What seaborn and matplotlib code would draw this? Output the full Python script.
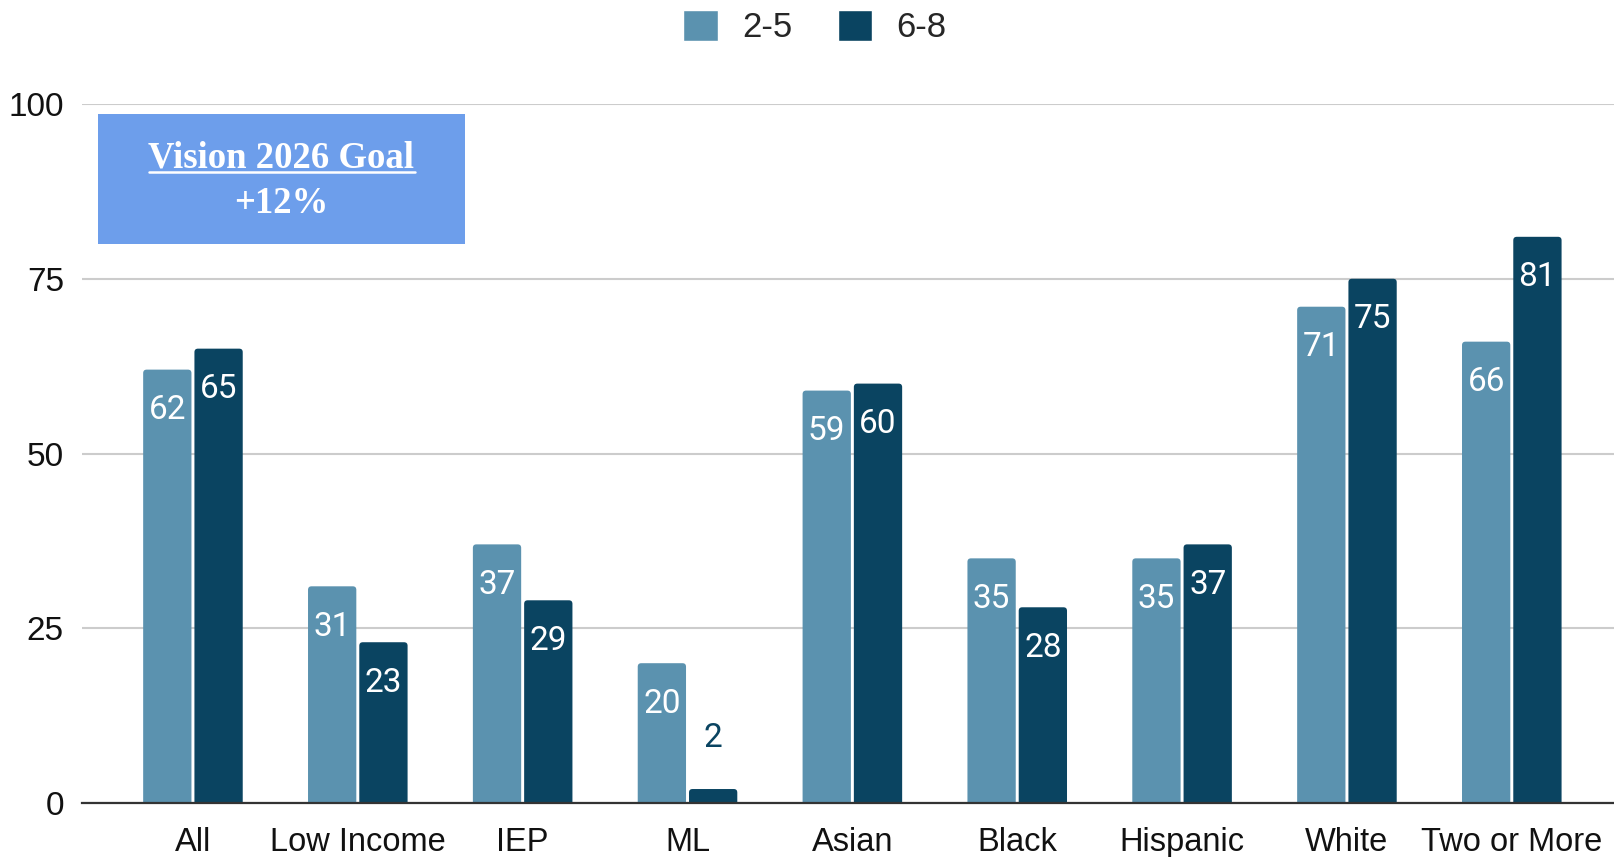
import numpy as np
import pandas as pd
import matplotlib
matplotlib.use("Agg")
import matplotlib.pyplot as plt
import seaborn as sns
from matplotlib.patches import FancyBboxPatch, Rectangle
from matplotlib.lines import Line2D

# --- data -------------------------------------------------------------
groups = ["All", "Low Income", "IEP", "ML", "Asian", "Black", "Hispanic",
          "White", "Two or More"]
grades = ["2-5", "6-8"]
scores_2_5 = [62, 31, 37, 20, 59, 35, 35, 71, 66]
scores_6_8 = [65, 23, 29, 2, 60, 28, 37, 75, 81]
y_ticks = [0, 25, 50, 75, 100]
goal_title = "Vision 2026 Goal"
goal_value = "+12%"

colors = {"2-5": "#5B92AF", "6-8": "#0A4461"}

df = pd.DataFrame({
    "group": groups * 2,
    "grade": ["2-5"] * len(groups) + ["6-8"] * len(groups),
    "score": scores_2_5 + scores_6_8,
})

# --- figure -----------------------------------------------------------
sns.set_style("white")
plt.rcParams["font.family"] = ["Liberation Sans", "DejaVu Sans"]

W, H = 1614, 857
fig = plt.figure(figsize=(W / 100, H / 100), dpi=100)
ax = fig.add_axes([82 / W, 54 / H, 1 - 82 / W, 699 / H])

sns.barplot(data=df, x="group", y="score", hue="grade", order=groups,
            hue_order=grades, palette=colors, width=0.622, gap=0.058,
            saturation=1, ax=ax, legend=True)

ax.set_ylim(0, 100)
ax.set_xlim(-0.673, 8.62)
ax.set_yticks(y_ticks)
ax.set_xlabel("")
ax.set_ylabel("")
ax.tick_params(axis="both", length=0, colors="#111111")
ax.tick_params(axis="y", pad=13, labelsize=24)
ax.tick_params(axis="x", pad=17, labelsize=23.5)
ax.grid(axis="y", color="#cccccc", linewidth=1.5)
ax.set_axisbelow(True)
for side in ("top", "left", "right"):
    ax.spines[side].set_visible(False)
ax.spines["bottom"].set_color("#333333")
ax.spines["bottom"].set_linewidth(1.6)
ax.spines["bottom"].set_zorder(5)

# Replace plain rectangles with bars that have softly rounded tops
px_x = ax.transData.transform((1, 0))[0] - ax.transData.transform((0, 0))[0]
px_y = ax.transData.transform((0, 1))[1] - ax.transData.transform((0, 0))[1]
radius_px = 3.5
r_x = radius_px / px_x
aspect = (radius_px / px_y) / r_x

for container, grade in zip(ax.containers, grades):
    for bar in container:
        x, w, h = bar.get_x(), bar.get_width(), bar.get_height()
        bar.set_visible(False)
        rounded = FancyBboxPatch(
            (x, -1.0), w, h + 1.0,
            boxstyle=f"round,pad=0,rounding_size={r_x}",
            mutation_aspect=aspect, facecolor=colors[grade],
            edgecolor="none", zorder=3, clip_on=True)
        ax.add_patch(rounded)
        label = f"{h:.0f}"
        cx = x + w / 2
        if h >= 10:
            ax.annotate(label, (cx, h), xytext=(0, -35.5),
                        textcoords="offset points", ha="center",
                        va="baseline", color="white", fontsize=24,
                        family="Roboto", zorder=4)
        else:
            ax.annotate(label, (cx, h), xytext=(0, 30.3),
                        textcoords="offset points", ha="center",
                        va="baseline", color=colors[grade], fontsize=24,
                        family="Roboto", zorder=4)

# Legend at top centre
handles, labels = ax.get_legend_handles_labels()
ax.legend_.remove()
fig.legend(handles, labels, loc="center", bbox_to_anchor=(815 / W, 1 - 27 / H),
           ncol=2, frameon=False, fontsize=25, handlelength=1.0,
           handleheight=1.0, handletextpad=0.7, columnspacing=1.3,
           borderpad=0)

# Goal callout box
fig.patches.append(Rectangle((98 / W, 1 - 244 / H), 367 / W, 130 / H,
                             transform=fig.transFigure, facecolor="#6D9EEB",
                             edgecolor="none", zorder=6))
t1 = fig.text(281.5 / W, 1 - 168 / H, goal_title, ha="center", va="baseline",
              color="white", fontsize=26.5, fontweight="bold",
              family="Liberation Serif", zorder=7)
fig.text(281.5 / W, 1 - 213 / H, goal_value, ha="center", va="baseline",
         color="white", fontsize=26.5, fontweight="bold",
         family="Liberation Serif", zorder=7)

renderer = fig.canvas.get_renderer()
bb = t1.get_window_extent(renderer)
fig.lines.append(Line2D([bb.x0 / W, bb.x1 / W], [1 - 172 / H, 1 - 172 / H],
                        transform=fig.transFigure, color="white",
                        linewidth=1.8, zorder=7))

fig.savefig("out.png", dpi=100)
